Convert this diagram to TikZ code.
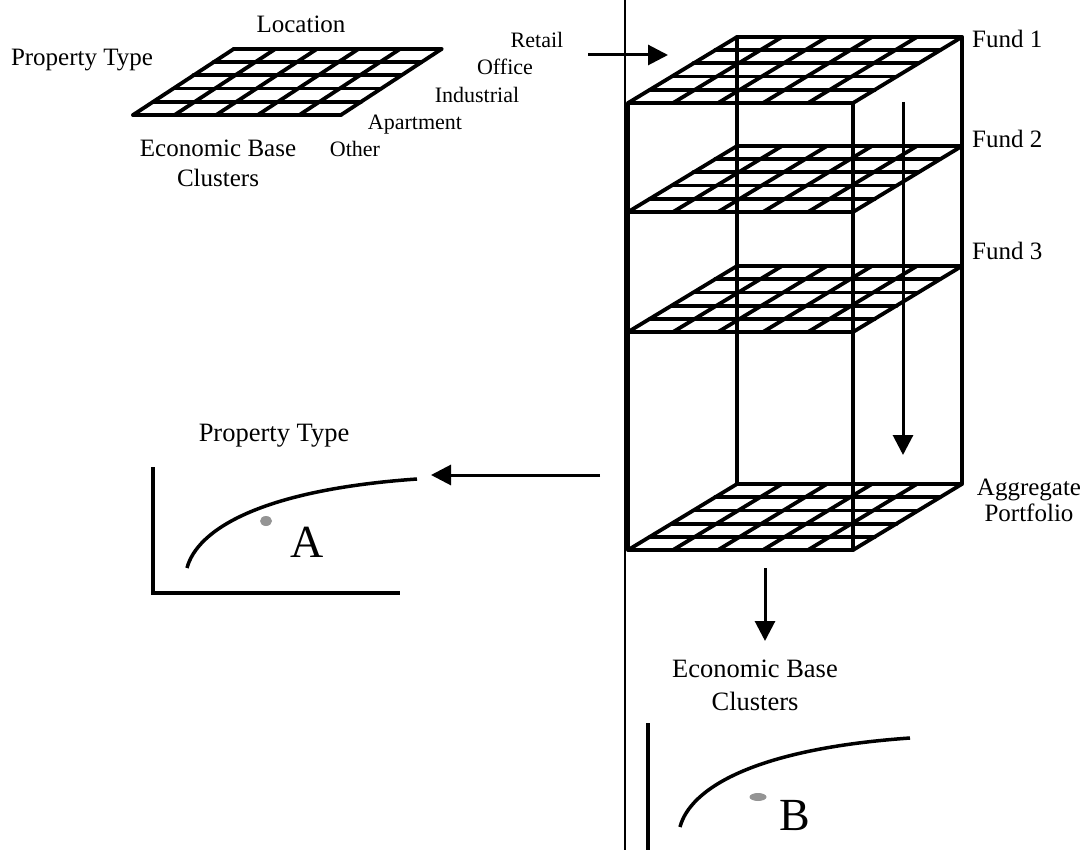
\documentclass[tikz,border=0pt]{standalone}
\usepackage{fontspec}
\setmainfont{Liberation Serif}
\usepackage{tikz}
\usetikzlibrary{arrows.meta}

\begin{document}
\begin{tikzpicture}[
  x=1pt, y=-1pt,
  every node/.style={inner sep=0pt},
  lbl/.style={font=\fontsize{25}{30}\selectfont},
  lblb/.style={font=\fontsize{26.5}{33}\selectfont},
  sm/.style={font=\fontsize{22}{26}\selectfont},
  big/.style={font=\fontsize{46}{50}\selectfont},
  grid/.style={line width=3.8pt, line cap=round},
  edge/.style={line width=3.8pt},
  axis/.style={line width=4pt},
  curve/.style={line width=3.5pt},
  arr/.style={-{Triangle[length=20pt,width=20pt]}, line width=3pt},
  sep/.style={line width=1.8pt},
  dot/.style={fill=black!42, draw=none},
  plane/.pic={
    \coordinate (-fl) at (0,0);
    \coordinate (-fr) at (225,0);
    \coordinate (-bl) at (109,-66);
    \coordinate (-br) at (334,-66);
    \foreach \i in {0,...,5}
      \draw[grid] (21.8*\i,-13.2*\i) -- ++(225,0);
    \foreach \j in {0,...,5}
      \draw[grid] (45*\j,0) -- ++(109,-66);
  },
]
\useasboundingbox (0,0) rectangle (1089,850);

% Layer 1 — single property grid, top left
\pic[xscale=0.924] (one) at (133,115) {plane};
\node[lbl, anchor=base] (loc) at (301,33) {Location};
\node[lbl, anchor=base] (ptype) at (82,66) {Property Type};
\node[lbl, anchor=north, align=center] (ebc) at (218,140) {Economic Base\\Clusters};
\node[sm, anchor=base] (retail) at (537,48) {Retail};
\node[sm, anchor=base] (office) at (505,75) {Office};
\node[sm, anchor=base] (indus) at (477,103) {Industrial};
\node[sm, anchor=base] (apt) at (415,130) {Apartment};
\node[sm, anchor=base] (other) at (355,157) {Other};

% separator
\coordinate (septop) at (625,0);
\coordinate (sepbot) at (625,850);
\draw[sep] (septop) -- (sepbot);

% Layer 2 — fund stack
\foreach \yf/\nm in {103/f1, 212/f2, 332/f3, 550/agg}
  \pic (\nm) at (628,\yf) {plane};
\draw[edge] (f1-fl) -- (agg-fl);
\draw[edge] (f1-fr) -- (agg-fr);
\draw[edge] (f1-bl) -- (agg-bl);
\draw[edge] (f1-br) -- (agg-br);
\node[lbl, anchor=base west] (fund1) at (972,48) {Fund 1};
\node[lbl, anchor=base west] (fund2) at (972,148) {Fund 2};
\node[lbl, anchor=base west] (fund3) at (972,260) {Fund 3};
\node[lbl, anchor=north, align=center, font=\fontsize{25}{26}\selectfont] (aggp) at (1029,479) {Aggregate\\Portfolio};

% Layer 3 — efficient frontiers
\draw[axis] (153,467) -- (153,593) -- (400,593);
\draw[curve] (187,568) .. controls (197,530) and (260,490) .. (417,479);
\fill[dot] (266,521) ellipse (6 and 5);
\node[lblb, anchor=base] (ptypeA) at (274,441) {Property Type};
\node[big, anchor=base] (ltrA) at (307,557) {A};

\draw[axis] (648,723) -- (648,850);
\draw[curve] (680,827) .. controls (690,789) and (753,749) .. (910,738);
\fill[dot] (758,797) ellipse (8.5 and 4);
\node[lblb, anchor=north, align=center] (ebcB) at (755,660) {Economic Base\\Clusters};
\node[big, anchor=base] (ltrB) at (795,830) {B};

% arrows
\coordinate (rtail) at (588,55);
\coordinate (rhead) at (668,55);
\coordinate (dtail) at (903,102);
\coordinate (dhead) at (903,455);
\coordinate (ltail) at (600,475);
\coordinate (lhead) at (431,475);
\coordinate (btail) at (765,568);
\coordinate (bhead) at (765,641);
\draw[arr] (rtail) -- (rhead);
\draw[arr] (dtail) -- (dhead);
\draw[arr] (ltail) -- (lhead);
\draw[arr] (btail) -- (bhead);

\end{tikzpicture}
\end{document}
